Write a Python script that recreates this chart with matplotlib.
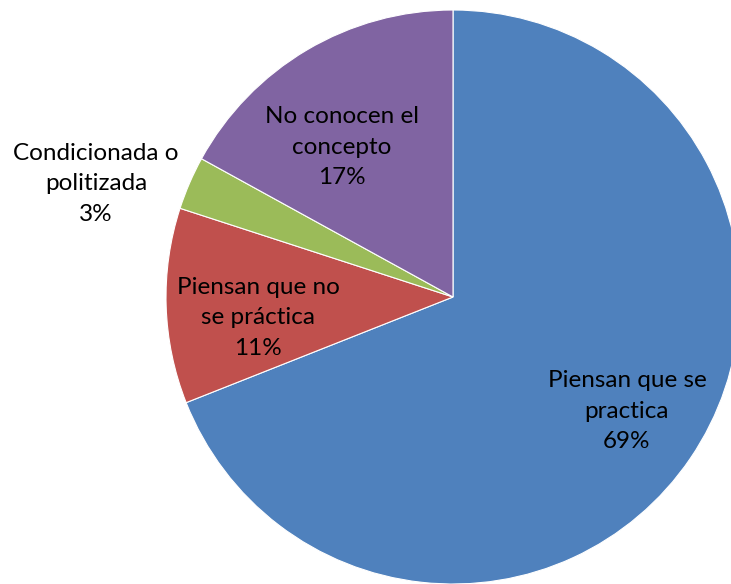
import matplotlib
matplotlib.use("Agg")
import matplotlib.pyplot as plt

categories = ["Piensan que se\npractica", "Piensan que no\nse práctica", "Condicionada o\npolitizada", "No conocen el\nconcepto"]
values = [69, 11, 3, 17]
colors = ["#4F81BD", "#C0504D", "#9BBB59", "#8064A2"]

plt.rcParams['font.family'] = ['Lato', 'DejaVu Sans']

W, H = 731, 584
fig = plt.figure(figsize=(W/100, H/100), dpi=100)
ax = fig.add_axes([0, 0, 1, 1])

cx, cy, r = 453, H - 297, 287
ax.pie(values, colors=colors, startangle=90, counterclock=False,
       center=(cx, cy), radius=r, frame=True,
       wedgeprops=dict(edgecolor='white', linewidth=0.8))
ax.set_xlim(0, W)
ax.set_ylim(0, H)
ax.set_aspect('equal')
ax.axis('off')

label_pos = [(627, 411), (258, 318), (96, 184), (342, 147)]
total = sum(values)
for cat, v, (x, y) in zip(categories, values, label_pos):
    ax.text(x, H - y, f"{cat}\n{v/total*100:.0f}%", ha='center', va='center',
            fontsize=17.5, linespacing=1.58, color='black')

fig.savefig("out.png", dpi=100)
